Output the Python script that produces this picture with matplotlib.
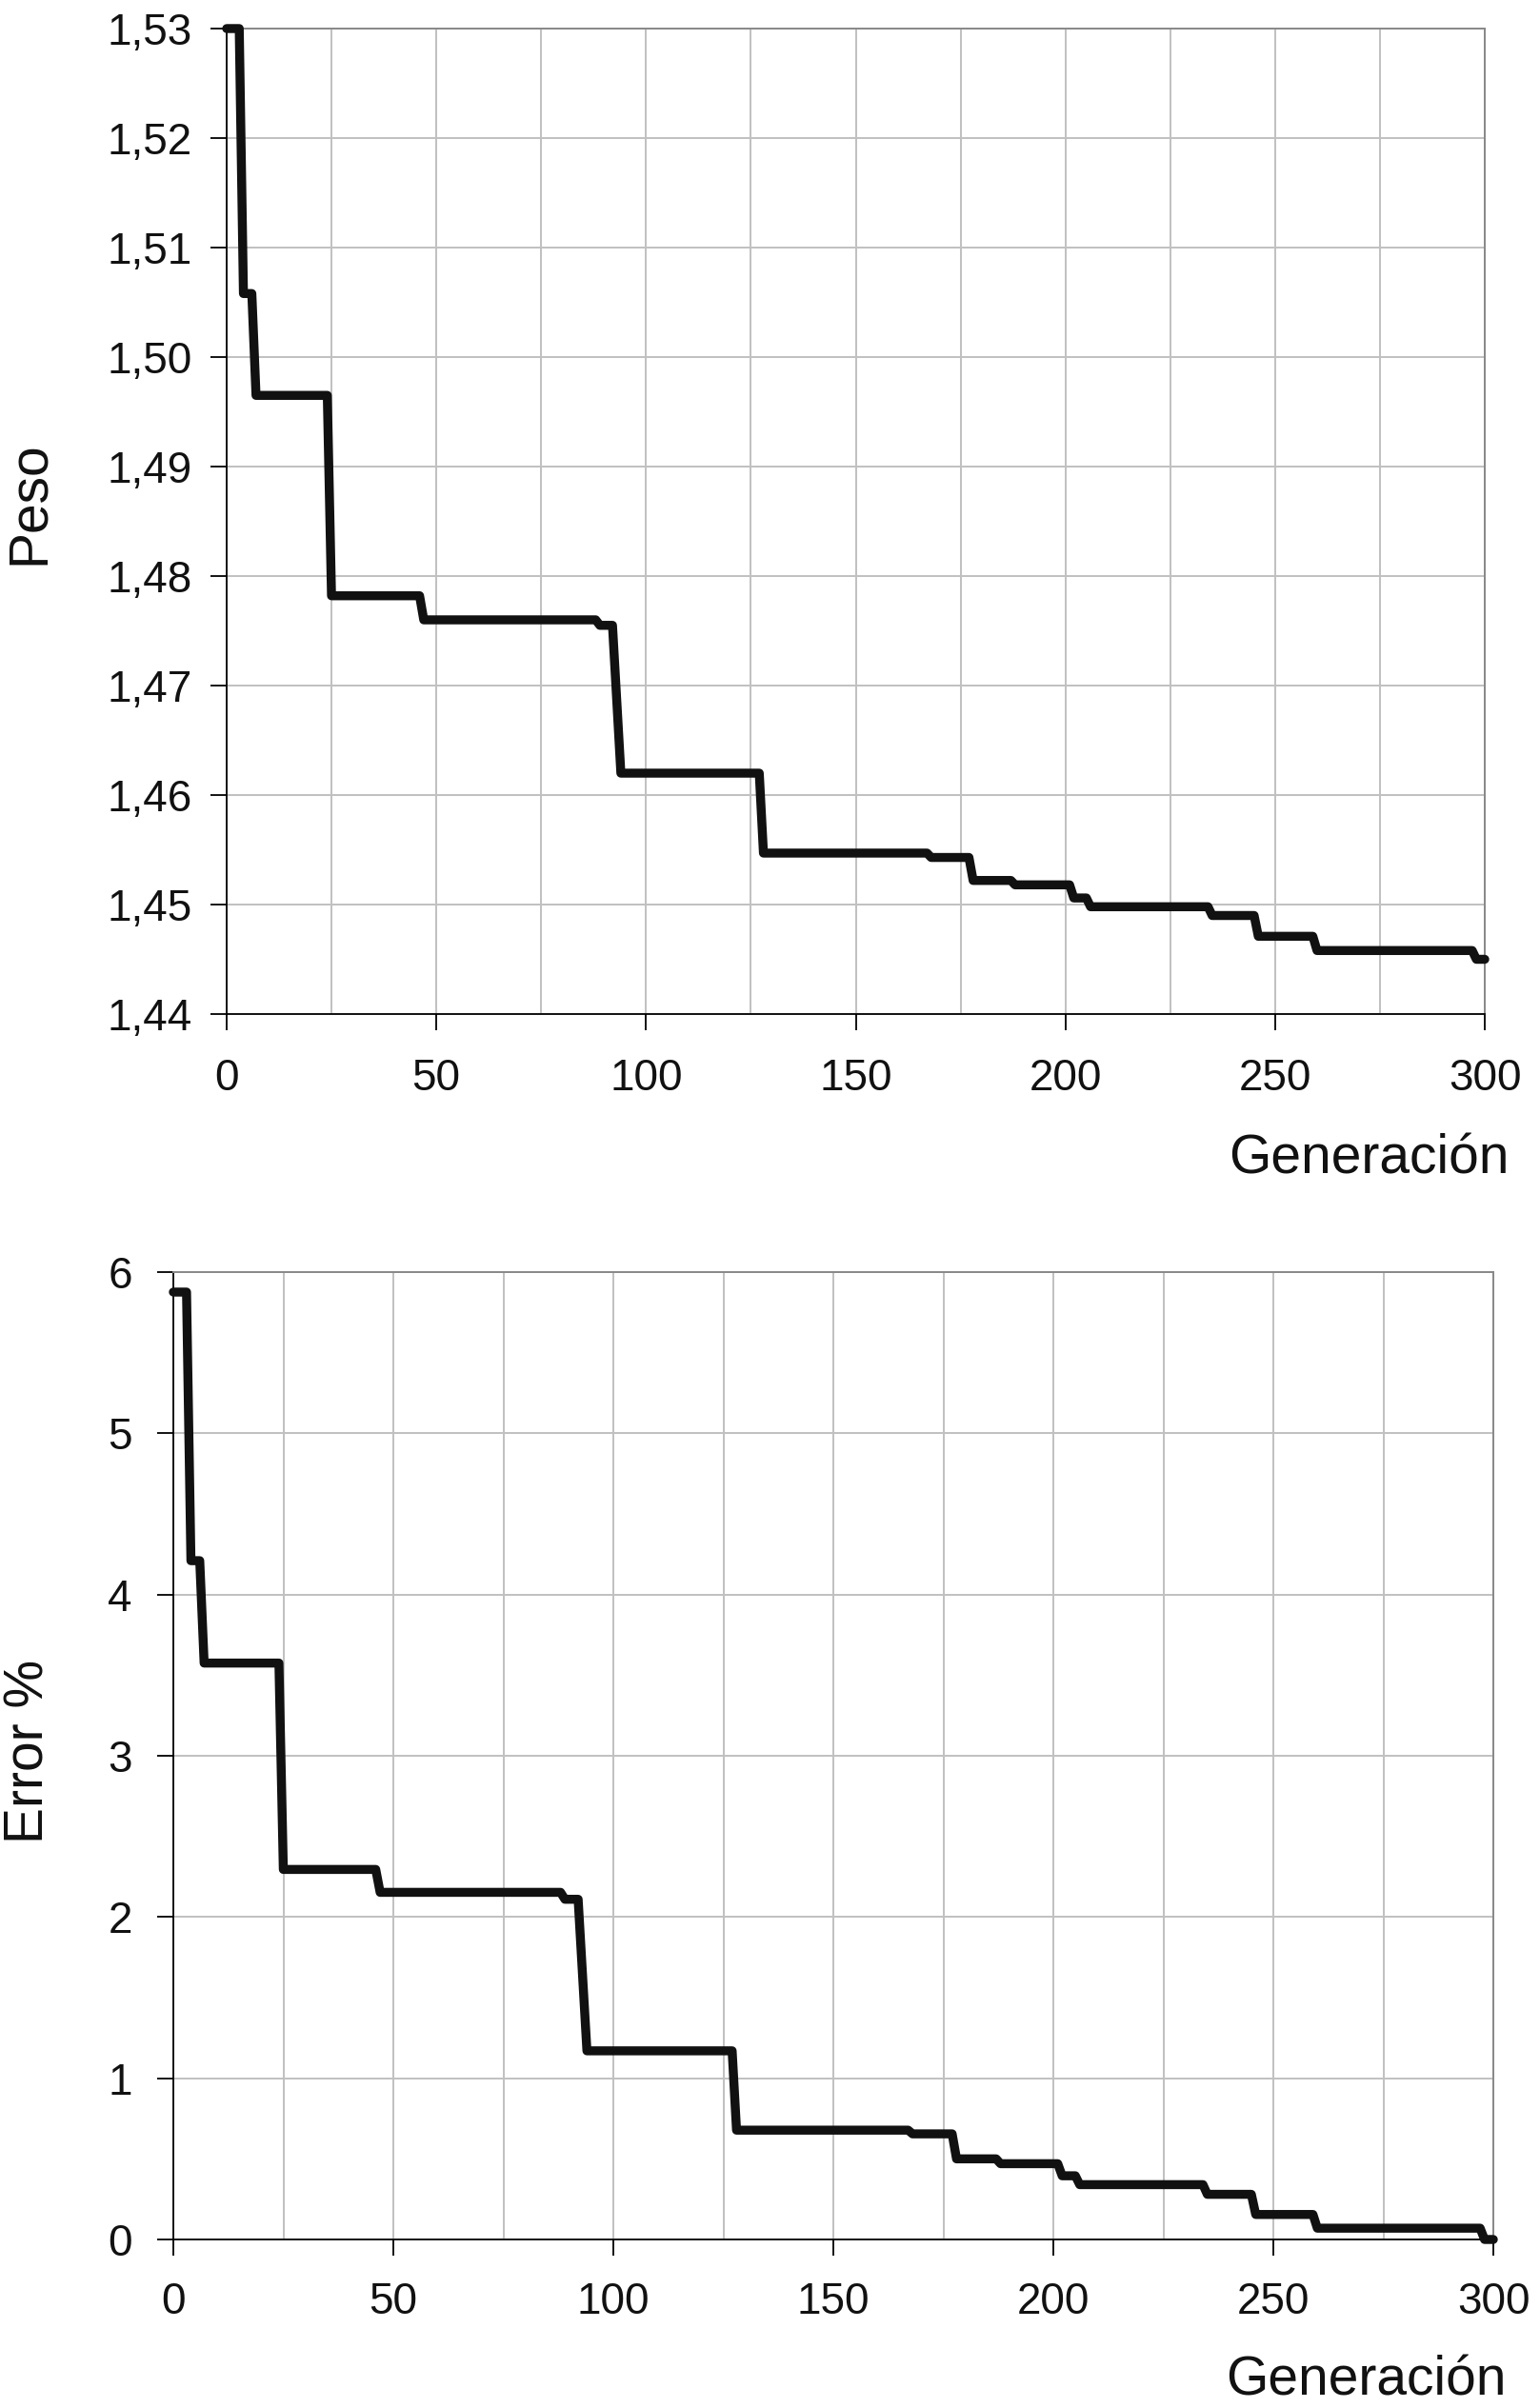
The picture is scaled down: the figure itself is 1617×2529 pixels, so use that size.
import matplotlib
matplotlib.use("Agg")
import matplotlib.pyplot as plt
from matplotlib.ticker import MultipleLocator, FixedLocator, FixedFormatter

plt.rcParams["font.family"] = ["Liberation Sans", "DejaVu Sans"]

# ── data (generation, value at break points) ─────────────────────────────────
gen = [0, 3, 4, 6, 7, 24, 25, 46, 47, 88, 89, 92, 94, 127, 128, 167, 168,
       177, 178, 187, 188, 201, 202, 205, 206, 234, 235, 245, 246, 259, 260,
       297, 298, 300]

peso = [1.5300, 1.5300, 1.5058, 1.5058, 1.4965, 1.4965, 1.4782, 1.4782,
        1.4760, 1.4760, 1.4755, 1.4755, 1.4620, 1.4620, 1.4547, 1.4547,
        1.4543, 1.4543, 1.4522, 1.4522, 1.4518, 1.4518, 1.4506, 1.4506,
        1.4498, 1.4498, 1.4490, 1.4490, 1.4471, 1.4471, 1.4458, 1.4458,
        1.4450, 1.4450]

error = [5.876, 5.876, 4.21, 4.21, 3.575, 3.575, 2.295, 2.295, 2.153, 2.153,
         2.11, 2.11, 1.17, 1.17, 0.678, 0.678, 0.655, 0.655, 0.50, 0.50,
         0.47, 0.47, 0.395, 0.395, 0.34, 0.34, 0.28, 0.28, 0.155, 0.155,
         0.07, 0.07, 0.0, 0.0]

x_ticks = [0, 50, 100, 150, 200, 250, 300]
peso_ticks = [1.44, 1.45, 1.46, 1.47, 1.48, 1.49, 1.50, 1.51, 1.52, 1.53]
peso_labels = ["1,44", "1,45", "1,46", "1,47", "1,48", "1,49", "1,50",
               "1,51", "1,52", "1,53"]
error_ticks = [0, 1, 2, 3, 4, 5, 6]
error_labels = ["0", "1", "2", "3", "4", "5", "6"]

W, H = 1617, 2529
fig = plt.figure(figsize=(W / 100, H / 100), dpi=100)

GRID = "#c0c0c0"
LINE = "#111111"
TICK_FS = 33
LABEL_FS = 41


def style_axes(ax, ypad, xpad):
    ax.set_xlim(0, 300)
    ax.xaxis.set_major_locator(FixedLocator(x_ticks))
    ax.xaxis.set_minor_locator(MultipleLocator(25))
    ax.grid(True, which="both", axis="x", color=GRID, linewidth=1.4)
    ax.grid(True, which="major", axis="y", color=GRID, linewidth=1.4)
    ax.set_axisbelow(True)
    for s in ["top", "right"]:
        ax.spines[s].set_color("#888888")
        ax.spines[s].set_linewidth(1.4)
    for s in ["left", "bottom"]:
        ax.spines[s].set_color("black")
        ax.spines[s].set_linewidth(1.3)
    ax.tick_params(which="major", direction="out", length=12, width=1.3,
                   labelsize=TICK_FS, color="black", labelcolor="#111111")
    ax.tick_params(axis="x", which="major", pad=xpad)
    ax.tick_params(axis="y", which="major", pad=ypad)
    ax.tick_params(which="minor", length=0)


# ── top panel: Peso ───────────────────────────────────────────────────────────
ax1 = fig.add_axes([238 / W, 1 - 1065 / H, 1321 / W, 1035 / H])
ax1.plot(gen, peso, color=LINE, linewidth=6.8, clip_on=False,
         solid_capstyle="round", solid_joinstyle="round", zorder=3)
ax1.set_ylim(1.44, 1.53)
ax1.yaxis.set_major_locator(FixedLocator(peso_ticks))
ax1.yaxis.set_major_formatter(FixedFormatter(peso_labels))
style_axes(ax1, 14, 21)
fig.text(31 / W, 1 - 528 / H, "Peso", rotation=90, ha="center", va="center",
         fontsize=LABEL_FS, color="#111111")
fig.text(1585 / W, 1 - 1232 / H, "Generación", ha="right", va="baseline",
         fontsize=LABEL_FS, color="#111111")

# ── bottom panel: Error % ────────────────────────────────────────────────────
ax2 = fig.add_axes([182 / W, 1 - 2352 / H, 1386 / W, 1016 / H])
ax2.plot(gen, error, color=LINE, linewidth=6.8, clip_on=False,
         solid_capstyle="round", solid_joinstyle="round", zorder=3)
ax2.set_ylim(0, 6)
ax2.yaxis.set_major_locator(FixedLocator(error_ticks))
ax2.yaxis.set_major_formatter(FixedFormatter(error_labels))
style_axes(ax2, 19, 20)
fig.text(31 / W, 1 - 1839 / H, "Error %", rotation=90, ha="center", va="center",
         fontsize=LABEL_FS, color="#111111")
fig.text(1582 / W, 1 - 2515 / H, "Generación", ha="right", va="baseline",
         fontsize=LABEL_FS, color="#111111")

fig.savefig("out.png", dpi=100, facecolor="white")
